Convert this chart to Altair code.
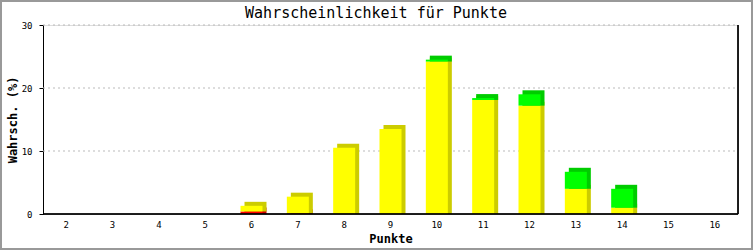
import altair as alt
import pandas as pd

punkte = [2, 3, 4, 5, 6, 7, 8, 9, 10, 11, 12, 13, 14, 15, 16]
rot = [0, 0, 0, 0, 0.4, 0.1, 0, 0, 0, 0, 0, 0, 0, 0, 0]
gelb = [0, 0, 0, 0, 0.9, 2.65, 10.5, 13.5, 24.2, 18.1, 17.2, 4.0, 1.0, 0, 0]
gruen = [0, 0, 0, 0, 0, 0, 0, 0, 0.3, 0.3, 1.8, 2.7, 3.0, 0, 0]
titel = "Wahrscheinlichkeit für Punkte"

W, H = 695, 189

rows = []
for i, p in enumerate(punkte):
    base = 0.0
    for name, vals, front, back, order in [
        ("rot", rot, "#ff0000", "#cc0000", 0),
        ("gelb", gelb, "#ffff00", "#cccc00", 1),
        ("gruen", gruen, "#00ff00", "#00cc00", 2),
    ]:
        v = vals[i]
        if v > 0:
            rows.append(dict(p=str(p), y0=base, y1=base + v, front=front, back=back, o=order))
        base += v
df = pd.DataFrame(rows)

xscale = alt.Scale(domain=[str(p) for p in punkte], paddingInner=0.5, paddingOuter=0.25)
yscale = alt.Scale(domain=[0, 30])

base = alt.Chart(df)

back = base.mark_bar(size=22, xOffset=4, yOffset=-4).encode(
    x=alt.X("p:N", scale=xscale, sort=[str(p) for p in punkte],
            axis=alt.Axis(title="Punkte", labelAngle=0, ticks=False, domain=False,
                          labelFont="DejaVu Sans Mono", labelFontSize=9, labelColor="#000",
                          labelPadding=6, titleFont="DejaVu Sans Mono", titleFontSize=12,
                          titleFontWeight="bold", titleColor="#000", titlePadding=4)),
    y=alt.Y("y1:Q", scale=yscale,
            axis=alt.Axis(title="Wahrsch. (%)", values=[0, 10, 20, 30], grid=False,
                          tickSize=4, tickColor="#000", domainColor="#000",
                          labelFont="DejaVu Sans Mono", labelFontSize=9, labelColor="#000",
                          labelPadding=7, titleFont="DejaVu Sans Mono", titleFontSize=12,
                          titleFontWeight="bold", titleColor="#000", titlePadding=2)),
    y2="y0:Q",
    color=alt.Color("back:N", scale=None),
    order=alt.Order("o:Q"),
)

front = base.mark_bar(size=22).encode(
    x=alt.X("p:N", scale=xscale, sort=[str(p) for p in punkte]),
    y=alt.Y("y1:Q", scale=yscale),
    y2="y0:Q",
    color=alt.Color("front:N", scale=None),
    order=alt.Order("o:Q"),
)

grid_df = pd.DataFrame({"g": [10, 20, 30]})
grid = alt.Chart(grid_df).mark_rule(color="#bbbbbb", strokeDash=[2, 3], strokeWidth=1).encode(
    y=alt.Y("g:Q", scale=yscale), x=alt.value(0), x2=alt.value(W)
)

right_line = alt.Chart(grid_df).mark_rule(color="#000", strokeWidth=1).encode(
    x=alt.value(W), y=alt.value(0), y2=alt.value(H)
)
bottom_line = alt.Chart(grid_df).mark_rule(color="#000", strokeWidth=1).encode(
    x=alt.value(0), x2=alt.value(W), y=alt.value(H)
)
border = alt.Chart(pd.DataFrame({"a": [0]})).mark_rect(
    fill=None, filled=False, stroke="#999999", strokeWidth=2
).encode(
    x=alt.value(-43 + 1), x2=alt.value(753 - 43 - 1),
    y=alt.value(-25 + 1), y2=alt.value(250 - 25 - 1),
)
title_mark = alt.Chart(pd.DataFrame({"t": [titel]})).mark_text(
    font="DejaVu Sans Mono", fontSize=15, color="#000", align="center", baseline="middle"
).encode(text="t:N", x=alt.value(376 - 43), y=alt.value(13 - 25))

chart = alt.layer(grid, back, front, right_line, bottom_line, border, title_mark).properties(
    width=W, height=H,
    autosize=alt.AutoSizeParams(type="none"),
    padding={"left": 43, "top": 25, "right": 15, "bottom": 36},
).configure_view(stroke=None).configure(background="#ffffff")

chart.save("out.html", embed_options={"renderer": "svg", "actions": False})
